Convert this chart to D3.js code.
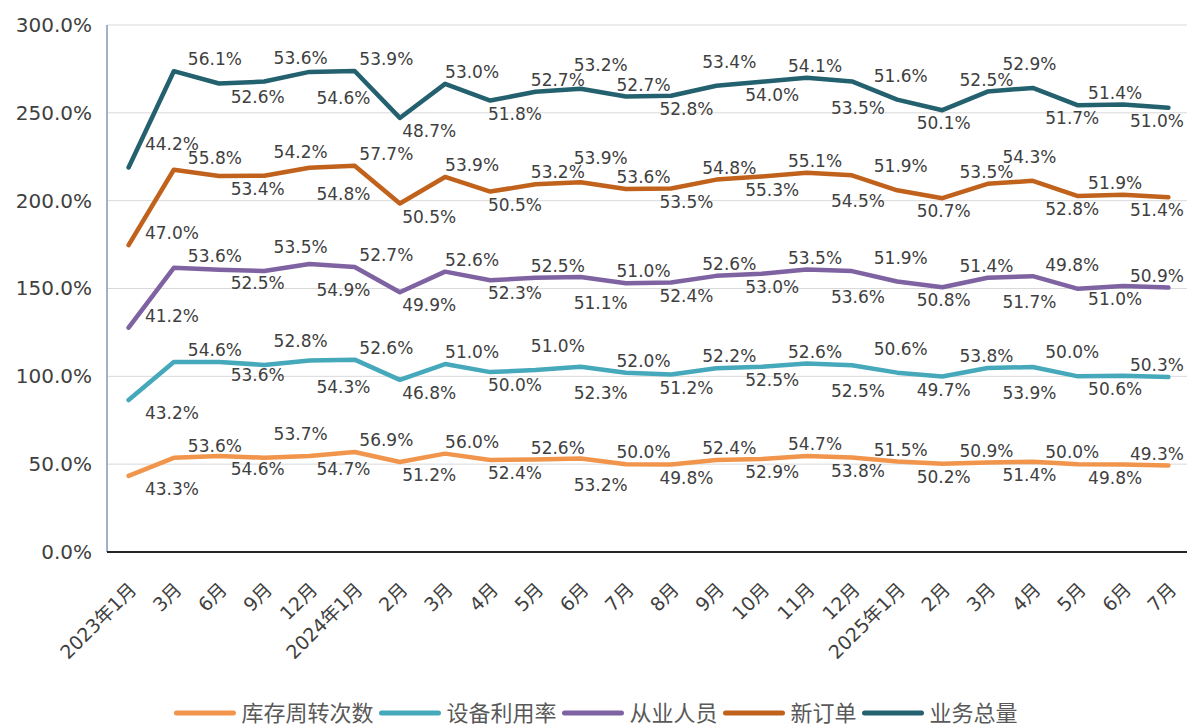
<!DOCTYPE html>
<html>
<head>
<meta charset="utf-8">
<script src="https://cdn.jsdelivr.net/npm/d3@7"></script>
<style>
  body { margin: 0; background: #fff; }
  svg { display: block; }
  text { font-family: "DejaVu Sans", "Noto Sans CJK SC", sans-serif; }
</style>
</head>
<body>
<svg id="chart" width="1187" height="727"></svg>
<script>
const categories = ["2023年1月", "3月", "6月", "9月", "12月", "2024年1月", "2月", "3月", "4月", "5月", "6月", "7月",
  "8月", "9月", "10月", "11月", "12月", "2025年1月", "2月", "3月", "4月", "5月", "6月", "7月"];
const seriesNames = ["库存周转次数", "设备利用率", "从业人员", "新订单", "业务总量"];

const inventoryTurnover = [43.3, 53.6, 54.6, 53.7, 54.7, 56.9, 51.2, 56.0, 52.4, 52.6, 53.2, 50.0,
  49.8, 52.4, 52.9, 54.7, 53.8, 51.5, 50.2, 50.9, 51.4, 50.0, 49.8, 49.3];
const equipmentUsage = [43.2, 54.6, 53.6, 52.8, 54.3, 52.6, 46.8, 51.0, 50.0, 51.0, 52.3, 52.0,
  51.2, 52.2, 52.5, 52.6, 52.5, 50.6, 49.7, 53.8, 53.9, 50.0, 50.6, 50.3];
const employees = [41.2, 53.6, 52.5, 53.5, 54.9, 52.7, 49.9, 52.6, 52.3, 52.5, 51.1, 51.0,
  52.4, 52.6, 53.0, 53.5, 53.6, 51.9, 50.8, 51.4, 51.7, 49.8, 51.0, 50.9];
const newOrders = [47.0, 55.8, 53.4, 54.2, 54.8, 57.7, 50.5, 53.9, 50.5, 53.2, 53.9, 53.6,
  53.5, 54.8, 55.3, 55.1, 54.5, 51.9, 50.7, 53.5, 54.3, 52.8, 51.9, 51.4];
const businessVolume = [44.2, 56.1, 52.6, 53.6, 54.6, 53.9, 48.7, 53.0, 51.8, 52.7, 53.2, 52.7,
  52.8, 53.4, 54.0, 54.1, 53.5, 51.6, 50.1, 52.5, 52.9, 51.7, 51.4, 51.0];
const yTicks = [0, 50, 100, 150, 200, 250, 300];

const seriesValues = [inventoryTurnover, equipmentUsage, employees, newOrders, businessVolume];
const colors = ["#f0954b", "#46a9bb", "#7f62a1", "#c0621c", "#24616e"];

const svg = d3.select("#chart"),
    width = 1187,
    margin = {top: 25, left: 107, bottom: 552};

// table for d3.stack
const rows = categories.map(function(c, i) {
    const r = {i: i};
    seriesNames.forEach(function(k, s) { r[k] = seriesValues[s][i]; });
    return r;
});
const series = d3.stack().keys(seriesNames)(rows);

const x = d3.scalePoint()
    .domain(d3.range(categories.length))
    .range([106, 1191])
    .padding(0.5);
// labels sit to the right of their points and drift left toward the edge
const labelX = d3.scalePoint()
    .domain(d3.range(categories.length))
    .range([172, 1158]);

const y = d3.scaleLinear()
    .domain([0, 300])
    .range([margin.bottom, margin.top]);

// grid
svg.append("g")
    .selectAll("line")
    .data(yTicks.filter(d => d > 0))
    .enter().append("line")
    .attr("x1", margin.left).attr("x2", width)
    .attr("y1", d => y(d)).attr("y2", d => y(d))
    .attr("stroke", "#d9d9d9").attr("stroke-width", 1);

// y axis
const yAxis = svg.append("g")
    .attr("transform", `translate(${margin.left},0)`)
    .call(d3.axisLeft(y).tickValues(yTicks).tickSize(0).tickPadding(15)
        .tickFormat(d => d.toFixed(1) + "%"));
yAxis.select(".domain").remove();
yAxis.selectAll("text")
    .attr("font-size", 20)
    .attr("fill", "#404040")
    .style("font-family", "DejaVu Sans");

svg.append("line")
    .attr("x1", margin.left).attr("x2", margin.left)
    .attr("y1", margin.top).attr("y2", margin.bottom)
    .attr("stroke", "#8497b0").attr("stroke-width", 1.5);

// x axis
const xAxis = svg.append("g")
    .attr("transform", `translate(0,${margin.bottom})`)
    .call(d3.axisBottom(x).tickSize(0).tickFormat(i => categories[i]));
xAxis.select(".domain").remove();
xAxis.selectAll("text")
    .attr("font-size", 19)
    .attr("fill", "#404040")
    .attr("text-anchor", "end")
    .attr("y", 0).attr("dy", "0.35em")
    .attr("transform", "translate(4,34) rotate(-45)");

svg.append("line")
    .attr("x1", margin.left).attr("x2", width)
    .attr("y1", margin.bottom).attr("y2", margin.bottom)
    .attr("stroke", "#262626").attr("stroke-width", 2);

// lines
const line = d3.line()
    .x(d => x(d.data.i))
    .y(d => y(d[1]));

svg.append("g")
    .selectAll("path")
    .data(series)
    .enter().append("path")
    .attr("d", line)
    .attr("fill", "none")
    .attr("stroke", (d, i) => colors[i])
    .attr("stroke-width", 4.5)
    .attr("stroke-linejoin", "round")
    .attr("stroke-linecap", "round");

// data labels with a simple greedy overlap check
const labelG = svg.append("g");
const measure = labelG.append("text").attr("font-size", 17);
function textWidth(t) {
    measure.text(t);
    return measure.node().getComputedTextLength();
}
const boxH = 14;
const placed = [];

function lineYAt(s, px) {
    const pts = series[s];
    for (let k = 0; k < pts.length - 1; k++) {
        const xa = x(k), xb = x(k + 1);
        if (px >= xa && px <= xb) {
            const t = (px - xa) / (xb - xa);
            return y(pts[k][1]) + t * (y(pts[k + 1][1]) - y(pts[k][1]));
        }
    }
    return null;
}
function overlap(a, b) {
    const w = Math.min(a.x1, b.x1) - Math.max(a.x0, b.x0);
    const h = Math.min(a.y1, b.y1) - Math.max(a.y0, b.y0);
    return (w > 0 && h > 0) ? w * h : 0;
}
function scoreBox(b) {
    let lab = 0;
    placed.forEach(p => { lab += overlap(b, p); });
    let hits = 0;
    for (let px = b.x0; px <= b.x1; px += 3) {
        for (let s = 0; s < series.length; s++) {
            const ly = lineYAt(s, px);
            if (ly !== null && ly > b.y0 - 2 && ly < b.y1 + 2) hits++;
        }
    }
    return {lab: lab, hits: hits, score: lab * 10 + hits};
}
function makeBox(cx, cy, w) {
    let x0 = cx - w / 2;
    if (x0 + w > width - 3) x0 = width - 3 - w;
    return {x0: x0, x1: x0 + w, y0: cy - boxH / 2, y1: cy + boxH / 2, cx: x0 + w / 2, cy: cy};
}

const offsets = [-12, 13, -24, 26];
series.forEach(function(ser, s) {
    ser.forEach(function(d, i) {
        const py = y(d[1]);
        let txt = seriesValues[s][i].toFixed(1) + "%";
        let w = textWidth(txt);
        let cands = offsets.map(o => makeBox(labelX(i), py + o, w));
        let best = null, bestSc = null;
        cands.forEach(function(b) {
            const sc = scoreBox(b);
            if (!bestSc || sc.score < bestSc.score) { best = b; bestSc = sc; }
        });
        if (bestSc.lab > 60) {
            txt = txt.slice(0, 2) + "...";
            w = textWidth(txt);
            cands = offsets.slice(0, 2).map(o => makeBox(labelX(i), py + o, w));
            best = null; bestSc = null;
            cands.forEach(function(b) {
                const sc = scoreBox(b);
                if (!bestSc || sc.score < bestSc.score) { best = b; bestSc = sc; }
            });
        }
        placed.push(best);
        labelG.append("text")
            .attr("x", best.cx)
            .attr("y", best.cy)
            .attr("dy", "0.36em")
            .attr("text-anchor", "middle")
            .attr("font-size", 17)
            .attr("fill", "#404040")
            .text(txt);
    });
});
measure.remove();

// legend
const legend = svg.append("g").attr("transform", "translate(0,713)");
const swatch = 57, gap = 8;
let cursor = 0;
const items = seriesNames.map(function(name, i) {
    const g = legend.append("g");
    g.append("line")
        .attr("x1", 0).attr("x2", swatch)
        .attr("stroke", colors[i]).attr("stroke-width", 5)
        .attr("stroke-linecap", "round");
    const t = g.append("text")
        .attr("x", swatch + gap)
        .attr("dy", "0.36em")
        .attr("font-size", 22)
        .attr("fill", "#595959")
        .style("font-family", "Noto Sans CJK SC")
        .text(name);
    const w = swatch + gap + t.node().getComputedTextLength();
    g.attr("transform", `translate(${cursor},0)`);
    cursor += w + gap;
    return g;
});
const total = cursor - gap;
legend.attr("transform", `translate(${597 - total / 2},713)`);
</script>
</body>
</html>
